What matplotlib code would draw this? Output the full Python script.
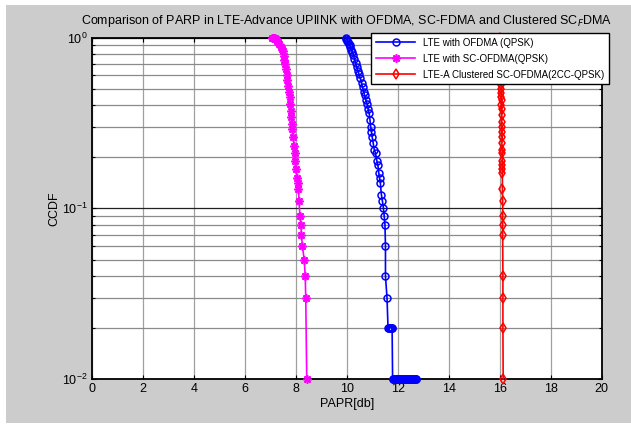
import matplotlib
matplotlib.use('Agg')
import matplotlib.pyplot as plt
from matplotlib.patches import Rectangle
from matplotlib.ticker import LogLocator, NullFormatter

plt.rcParams['font.family'] = ['Liberation Sans', 'DejaVu Sans']

# LTE with OFDMA (QPSK)
ofdm_papr = [9.96, 9.99, 10.02, 10.05, 10.08, 10.11, 10.14, 10.18, 10.22, 10.26,
             10.30, 10.35, 10.40, 10.44, 10.48, 10.53, 10.58, 10.62, 10.66, 10.70,
             10.75, 10.80, 10.84, 10.88, 10.91, 10.94, 10.97, 11.00, 11.04, 11.08,
             11.13, 11.18, 11.22, 11.26, 11.29, 11.32, 11.36, 11.40, 11.44, 11.47,
             11.50, 11.52, 11.52, 11.58,
             11.62, 11.64, 11.66, 11.68, 11.70, 11.72, 11.74, 11.76, 11.78,
             11.80, 11.82, 11.84, 11.86, 11.88, 11.90, 11.92, 11.94, 11.96, 11.98,
             12.00, 12.02, 12.04, 12.06, 12.08, 12.10, 12.12, 12.14, 12.16, 12.18,
             12.20, 12.22, 12.24, 12.26, 12.28, 12.30, 12.32, 12.34, 12.36, 12.38,
             12.40, 12.42, 12.44, 12.46, 12.48, 12.50, 12.52, 12.54, 12.56, 12.58,
             12.60, 12.62, 12.64, 12.66, 12.68, 12.70, 12.72]
ofdm_ccdf = [1.0, 0.98, 0.96, 0.94, 0.92, 0.90, 0.88, 0.85, 0.82, 0.79,
             0.75, 0.71, 0.67, 0.64, 0.61, 0.58, 0.54, 0.51, 0.48, 0.46,
             0.43, 0.41, 0.38, 0.36, 0.33, 0.30, 0.28, 0.26, 0.24, 0.22,
             0.21, 0.19, 0.18, 0.16, 0.15, 0.14, 0.12, 0.11, 0.10, 0.09,
             0.08, 0.06, 0.04, 0.03,
             0.02, 0.02, 0.02, 0.02, 0.02, 0.02, 0.02, 0.02, 0.02,
             0.01, 0.01, 0.01, 0.01, 0.01, 0.01, 0.01, 0.01, 0.01, 0.01,
             0.01, 0.01, 0.01, 0.01, 0.01, 0.01, 0.01, 0.01, 0.01, 0.01,
             0.01, 0.01, 0.01, 0.01, 0.01, 0.01, 0.01, 0.01, 0.01, 0.01,
             0.01, 0.01, 0.01, 0.01, 0.01, 0.01, 0.01, 0.01, 0.01, 0.01,
             0.01, 0.01, 0.01, 0.01, 0.01, 0.01, 0.01]

# LTE with SC-FDMA (QPSK)
sc_papr = [7.08, 7.12, 7.16, 7.20, 7.24, 7.28, 7.32, 7.36, 7.40, 7.44,
           7.48, 7.52, 7.55, 7.58, 7.62, 7.65, 7.67, 7.70, 7.73, 7.76,
           7.78, 7.80, 7.83, 7.85, 7.87, 7.90, 7.93, 7.95, 7.96, 8.00,
           8.04, 8.07, 8.10, 8.13, 8.16, 8.20, 8.22, 8.26, 8.33, 8.37,
           8.39, 8.43]
sc_ccdf = [1.0, 1.0, 1.0, 0.99, 0.98, 0.96, 0.94, 0.91, 0.88, 0.86,
           0.83, 0.78, 0.74, 0.70, 0.65, 0.60, 0.56, 0.52, 0.48, 0.45,
           0.41, 0.37, 0.34, 0.31, 0.29, 0.26, 0.23, 0.21, 0.19, 0.17,
           0.15, 0.14, 0.13, 0.11, 0.09, 0.08, 0.07, 0.06, 0.05, 0.04,
           0.03, 0.01]

# LTE-A clustered SC-FDMA (2CC-QPSK)
ca_papr = [16.00, 16.01, 16.01, 16.02, 16.02, 16.03, 16.03, 16.04, 16.04, 16.05,
           16.05, 16.06, 16.06, 16.07, 16.06, 16.07, 16.08, 16.07, 16.08, 16.09,
           16.08, 16.09, 16.09, 16.10, 16.09, 16.10, 16.10, 16.11, 16.10, 16.11,
           16.11, 16.11, 16.12, 16.12, 16.12, 16.12, 16.13, 16.13, 16.13, 16.14]
ca_ccdf = [1.0, 0.96, 0.92, 0.88, 0.84, 0.80, 0.76, 0.72, 0.68, 0.64,
           0.60, 0.57, 0.53, 0.50, 0.47, 0.45, 0.43, 0.40, 0.38, 0.35,
           0.32, 0.30, 0.28, 0.26, 0.24, 0.22, 0.21, 0.19, 0.18, 0.17,
           0.16, 0.13, 0.11, 0.09, 0.08, 0.07, 0.04, 0.03, 0.02, 0.01]

x_ticks = [0, 2, 4, 6, 8, 10, 12, 14, 16, 18, 20]

fig = plt.figure(figsize=(6.31, 4.28), dpi=100, facecolor='white')
# grey figure area (MATLAB style) inside a thin white border
fig.patches.append(Rectangle((6 / 631, 5 / 428), 1 - 6 / 631, 418 / 428,
                             transform=fig.transFigure, facecolor='#cccccc',
                             edgecolor='none', zorder=-10))

ax = fig.add_axes([92 / 631, 49 / 428, 509.5 / 631, 341.5 / 428])
ax.set_facecolor('white')

# markers are not clipped at the axes edge, as in MATLAB
ax.plot(ofdm_papr, ofdm_ccdf, color='blue', marker='o', markerfacecolor='none',
        markersize=5, linewidth=1.2, markeredgewidth=1.1, clip_on=False, zorder=3,
        label='LTE with OFDMA (QPSK)')
ax.plot(sc_papr, sc_ccdf, color='magenta', marker=(8, 2, 0), markersize=6,
        linewidth=1.2, markeredgewidth=1.2, clip_on=False, zorder=3,
        label='LTE with SC-OFDMA(QPSK)')
ax.plot(ca_papr, ca_ccdf, color='red', marker='d', markerfacecolor='none',
        markersize=5, linewidth=1.2, markeredgewidth=1.1, clip_on=False, zorder=3,
        label='LTE-A Clustered SC-OFDMA(2CC-QPSK)')

ax.set_yscale('log')
ax.set_xlim(0, 20)
ax.set_ylim(0.01, 1)
ax.set_xticks(x_ticks)
ax.yaxis.set_major_locator(LogLocator(base=10, numticks=5))
ax.yaxis.set_minor_locator(LogLocator(base=10, subs=range(2, 10), numticks=20))
ax.yaxis.set_minor_formatter(NullFormatter())

ax.grid(True, which='major', axis='x', color='#a0a0a0', linewidth=0.9)
ax.grid(True, which='major', axis='y', color='#222222', linewidth=0.9)
ax.grid(True, which='minor', axis='y', color='#8a8a8a', linewidth=0.9)
ax.set_axisbelow(True)

ax.tick_params(which='both', direction='in', top=True, right=True,
               labelsize=9, length=3, width=0.8, pad=3)
ax.tick_params(which='minor', length=2)
for s in ax.spines.values():
    s.set_linewidth(1.3)

ax.set_xlabel('PAPR[db]', fontsize=9, labelpad=2)
ax.set_ylabel('CCDF', fontsize=9, labelpad=1)
ax.set_title('Comparison of PARP in LTE-Advance UPlINK with OFDMA, SC-FDMA and Clustered SC$_F$DMA',
             fontsize=9, pad=10)

leg = ax.legend(loc='upper right', bbox_to_anchor=(609 / 631, 395 / 428),
                bbox_transform=fig.transFigure, fontsize=7, fancybox=False,
                framealpha=1, edgecolor='black', handlelength=4,
                borderpad=0.5, labelspacing=0.6, borderaxespad=0)
leg.get_frame().set_linewidth(1.0)
leg.set_zorder(10)

fig.savefig('out.png', dpi=100, facecolor=fig.get_facecolor())
